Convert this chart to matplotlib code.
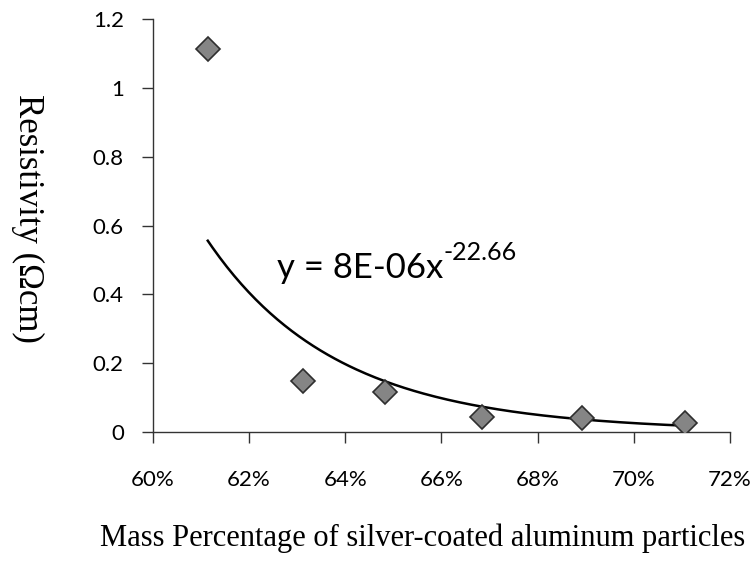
import matplotlib
matplotlib.use("Agg")
import matplotlib.pyplot as plt
from matplotlib.ticker import FuncFormatter, MultipleLocator
import numpy as np

# mass fraction of silver-coated Al particles and measured resistivity
mass_frac = [0.6114, 0.6313, 0.6483, 0.6685, 0.6892, 0.7106]
resistivity = [1.113, 0.148, 0.116, 0.044, 0.041, 0.026]

# power trendline y = a * x^b
fit_a = 8e-06
fit_b = -22.66

fig = plt.figure(figsize=(7.55, 5.61), dpi=100)
ax = fig.add_axes([0.2026, 0.2299, 0.7642, 0.7362])

ax.plot(mass_frac, resistivity, linestyle="none", marker="D", markersize=12,
        markerfacecolor="#858585", markeredgecolor="#2e2e2e", markeredgewidth=1.2,
        zorder=3)

xs = np.linspace(mass_frac[0], mass_frac[-1], 200)
ax.plot(xs, fit_a * xs ** fit_b, color="black", linewidth=1.8, zorder=2)

ax.set_xlim(0.60, 0.72)
ax.set_ylim(0, 1.2)
ax.xaxis.set_major_locator(MultipleLocator(0.02))
ax.yaxis.set_major_locator(MultipleLocator(0.2))
ax.xaxis.set_major_formatter(FuncFormatter(lambda v, p: "%d%%" % round(v * 100)))
ax.yaxis.set_major_formatter(FuncFormatter(lambda v, p: ("%.1f" % v).rstrip("0").rstrip(".") if v else "0"))

for s in ["top", "right"]:
    ax.spines[s].set_visible(False)
for s in ["left", "bottom"]:
    ax.spines[s].set_color("#333333")
    ax.spines[s].set_linewidth(1.0)

ax.tick_params(direction="out", length=8, width=1, color="#333333",
               labelsize=16, pad=13)
ax.tick_params(axis="x", pad=19)
for lbl in ax.get_xticklabels() + ax.get_yticklabels():
    lbl.set_fontfamily("Lato")

# equation of the trendline
eq = ax.text(0.6259, 0.477, "y = 8E-06x", fontsize=25, fontfamily="Lato",
             color="black", va="center")
ax.annotate("-22.66", xy=(1.0, 0.62), xycoords=eq, fontsize=18, fontfamily="Lato",
            va="bottom", ha="left")

fig.text(0.1325, 0.041, "Mass Percentage of silver-coated aluminum particles",
         fontsize=22, fontfamily="Liberation Serif", ha="left", va="center")
fig.text(0.036, 0.611, "Resistivity (\u03a9cm)", fontsize=25,
         fontfamily="Liberation Serif", rotation=-90, ha="center", va="center")

fig.savefig("out.png", dpi=100)
